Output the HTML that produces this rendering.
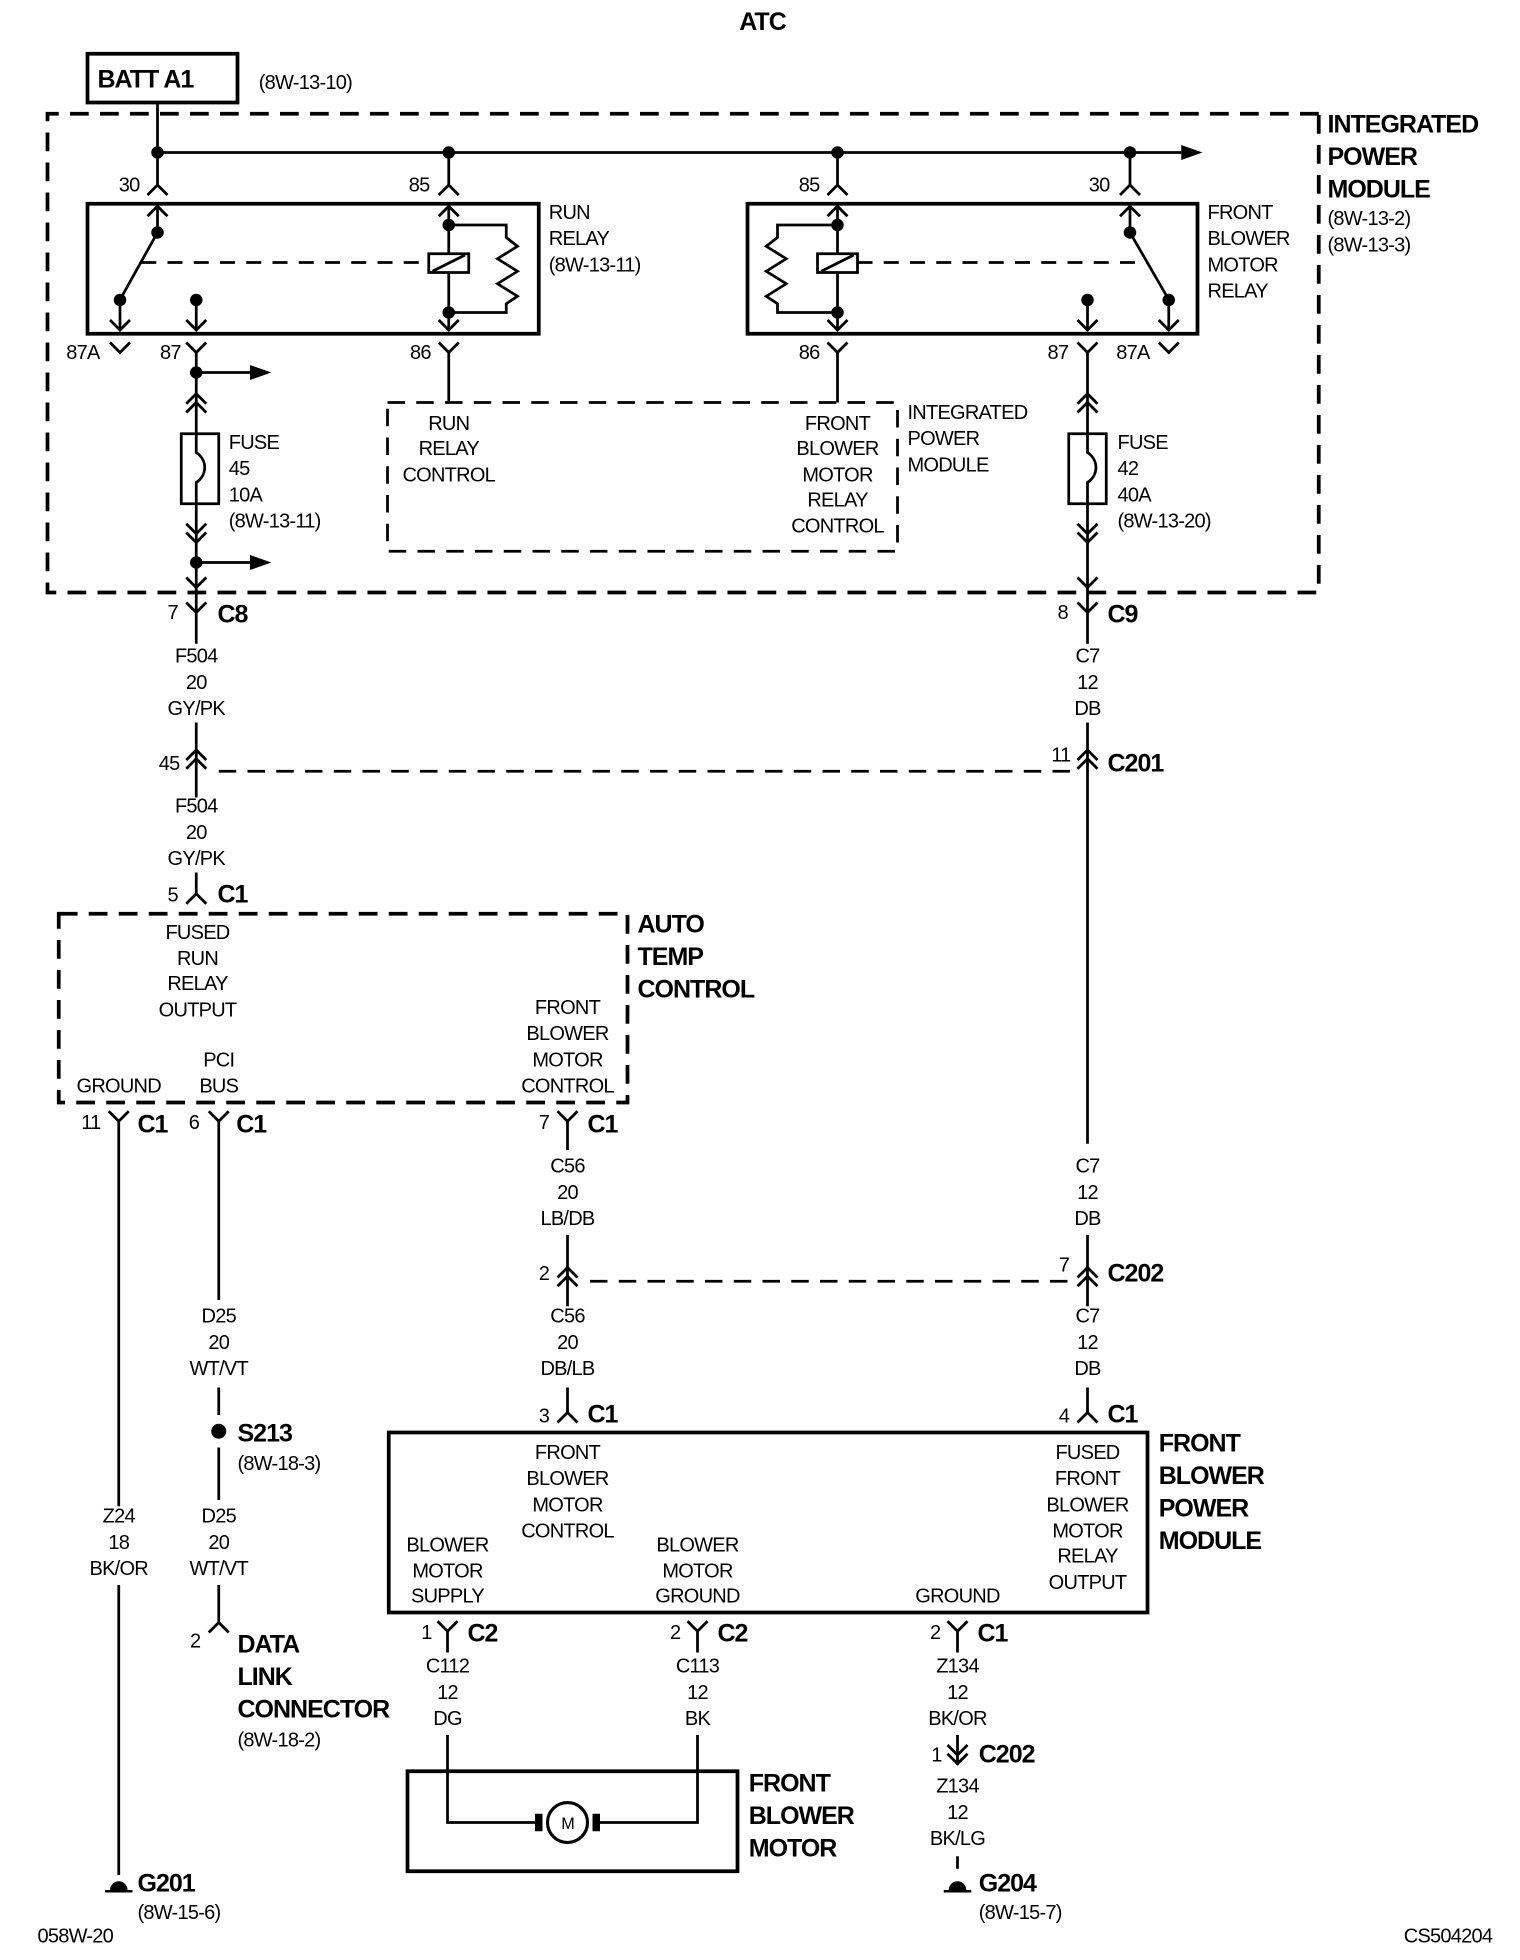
<!DOCTYPE html>
<html><head><meta charset="utf-8"><style>
html,body{margin:0;padding:0;background:#fff}
svg{display:block}
text{font-family:"Liberation Sans",sans-serif;font-size:16px;fill:#000;letter-spacing:-0.6px}
.b{font-weight:bold;font-size:20px;letter-spacing:-0.8px}
.m{text-anchor:middle}
</style></head><body>
<svg width="1520" height="1960" viewBox="0 0 1216 1568" xmlns="http://www.w3.org/2000/svg">
<g fill="none" stroke="#000" stroke-width="2.2">
<rect x="70" y="43" width="120" height="39" stroke-width="3"/>
<path d="M1055 91 H38 V474 H1055 Z" stroke-width="3" stroke-dasharray="15 9"/>
<path d="M126 82 V148 M126 122 H945 M359 122 V148 M670 122 V148 M904 122 V148"/>
<rect x="70" y="163" width="361" height="104" stroke-width="3"/>
<rect x="598" y="163" width="360" height="104" stroke-width="3"/>
<path d="M118 156 L126 148 L134 156 M351 156 L359 148 L367 156 M662 156 L670 148 L678 156 M896 156 L904 148 L912 156"/>
<path d="M118 173 L126 165 L134 173 M351 173 L359 165 L367 173 M662 173 L670 165 L678 173 M896 173 L904 165 L912 173"/>
<path d="M126 165 V186 M126 186 L97 238 M96 240 V264 M157 240 V264 M359 165 V203 M359 218 V264 M359 180 H405 V190 L414 197 L398 207 L414 217 L398 227 L414 237 L405 243 V250 H359"/>
<rect x="343" y="203" width="32" height="15"/>
<path d="M346 217 L372 204"/>
<path d="M113 210 H343" stroke-dasharray="12 9"/>
<path d="M904 165 V186 L934 238 M935 240 V264 M870 240 V264 M670 165 V203 M670 218 V264 M670 180 H622 V190 L613 197 L629 207 L613 217 L629 227 L613 237 L622 243 V250 H670"/>
<rect x="654" y="203" width="32" height="15"/>
<path d="M657 217 L683 204"/>
<path d="M686 210 H918" stroke-dasharray="12 9"/>
<path d="M88 256 L96 264 L104 256 M149 256 L157 264 L165 256 M351 256 L359 264 L367 256 M862 256 L870 264 L878 256 M927 256 L935 264 L943 256 M662 256 L670 264 L678 256"/>
<path d="M88 274 L96 282 L104 274 M149 274 L157 282 L165 274 M351 274 L359 282 L367 274 M862 274 L870 282 L878 274 M927 274 L935 282 L943 274 M662 274 L670 282 L678 274"/>
<path d="M157 282 V347 M157 403 V490 M157 298 H200 M157 450 H200 M359 282 V322 M670 282 V322 M870 282 V347 M870 403 V490"/>
<rect x="145" y="347" width="30" height="56"/>
<rect x="855" y="347" width="30" height="56"/>
<path d="M157 347 V362 C166 368 166 380 157 386 V403 M870 347 V362 C879 368 879 380 870 386 V403"/>
<path d="M149 323 L157 315 L165 323 M149 330 L157 322 L165 330 M862 323 L870 315 L878 323 M862 330 L870 322 L878 330"/>
<path d="M149 419 L157 427 L165 419 M149 426 L157 434 L165 426 M862 419 L870 427 L878 419 M862 426 L870 434 L878 426"/>
<path d="M149 462 L157 470 L165 462 M862 462 L870 470 L878 462"/>
<path d="M149 482 L157 490 L165 482 M862 482 L870 490 L878 482 M157 490 V515 M870 490 V515"/>
<path d="M310 322 H718 V441 H310 Z" stroke-dasharray="14 9"/>
<path d="M157 578 V638 M157 698 V715 M870 578 V915 M870 988 V1045"/>
<path d="M149 608 L157 600 L165 608 M149 615 L157 607 L165 615 M862 608 L870 600 L878 608 M862 615 L870 607 L878 615"/>
<path d="M175 617 H862" stroke-dasharray="14 9"/>
<path d="M149 723 L157 715 L165 723"/>
<path d="M47 731 H502 V882 H47 Z" stroke-width="3" stroke-dasharray="15 9"/>
<path d="M87 889 L95 897 L103 889 M95 897 V1205 M95 1268 V1500 M167 889 L175 897 L183 889 M175 897 V1040 M175 1110 V1132 M175 1158 V1200 M175 1268 V1298 M167 1306 L175 1298 L183 1306 M446 889 L454 897 L462 889 M454 897 V920 M454 988 V1045 M454 1110 V1130"/>
<path d="M446 1022 L454 1014 L462 1022 M446 1029 L454 1021 L462 1029 M862 1022 L870 1014 L878 1022 M862 1029 L870 1021 L878 1029"/>
<path d="M472 1025 H855" stroke-dasharray="14 9"/>
<path d="M870 1110 V1130"/>
<path d="M446 1138 L454 1130 L462 1138 M862 1138 L870 1130 L878 1138"/>
<rect x="311" y="1146" width="607" height="144" stroke-width="3"/>
<path d="M350 1297 L358 1305 L366 1297 M358 1305 V1322 M550 1297 L558 1305 L566 1297 M558 1305 V1322 M758 1297 L766 1305 L774 1297 M766 1305 V1322"/>
<rect x="326" y="1417" width="264" height="80" stroke-width="3"/>
<path d="M358 1388 V1458 H430 M478 1458 H558 V1388"/>
<circle cx="454" cy="1458" r="16" stroke-width="2.5"/>
<path d="M766 1388 V1412 M758 1396 L766 1404 L774 1396 M758 1403 L766 1411 L774 1403 M766 1485 V1495"/>
</g>
<g fill="#000">
<polygon points="945,116 962,122 945,128"/>
<polygon points="200,292 217,298 200,304"/>
<polygon points="200,444 217,450 200,456"/>
<rect x="428" y="1451" width="6" height="14"/><rect x="474" y="1451" width="6" height="14"/>
<circle cx="126" cy="122" r="5"/><circle cx="359" cy="122" r="5"/><circle cx="670" cy="122" r="5"/><circle cx="904" cy="122" r="5"/>
<circle cx="126" cy="186" r="5"/><circle cx="96" cy="240" r="5"/><circle cx="157" cy="240" r="5"/><circle cx="359" cy="180" r="5"/><circle cx="359" cy="250" r="5"/>
<circle cx="670" cy="180" r="5"/><circle cx="670" cy="250" r="5"/><circle cx="904" cy="186" r="5"/><circle cx="870" cy="240" r="5"/><circle cx="935" cy="240" r="5"/>
<circle cx="157" cy="298" r="5"/><circle cx="157" cy="450" r="5"/>
<circle cx="175" cy="1145" r="6"/>
<path d="M88 1512 a7 7 0 0 1 14 0 z M84 1512 h22 v2 h-22z"/>
<path d="M759 1512 a7 7 0 0 1 14 0 z M755 1512 h22 v2 h-22z"/>
</g>
<text class="b" x="610" y="24" text-anchor="middle">ATC</text>
<text class="b" x="78" y="70">BATT A1</text>
<text x="207" y="71">(8W-13-10)</text>
<text class="b" x="1062" y="106">INTEGRATED</text><text class="b" x="1062" y="132">POWER</text><text class="b" x="1062" y="158">MODULE</text>
<text x="1062" y="180">(8W-13-2)</text><text x="1062" y="201">(8W-13-3)</text>
<text x="95" y="153">30</text><text x="327" y="153">85</text><text x="639" y="153">85</text><text x="871" y="153">30</text>
<text x="439" y="175">RUN</text><text x="439" y="196">RELAY</text><text x="439" y="217">(8W-13-11)</text>
<text x="966" y="175">FRONT</text><text x="966" y="196">BLOWER</text><text x="966" y="217">MOTOR</text><text x="966" y="238">RELAY</text>
<text x="53" y="287">87A</text><text x="128" y="287">87</text><text x="328" y="287">86</text><text x="639" y="287">86</text><text x="838" y="287">87</text><text x="893" y="287">87A</text>
<text x="183" y="359">FUSE</text><text x="183" y="380">45</text><text x="183" y="401">10A</text><text x="183" y="422">(8W-13-11)</text>
<text x="894" y="359">FUSE</text><text x="894" y="380">42</text><text x="894" y="401">40A</text><text x="894" y="422">(8W-13-20)</text>
<text class="m" x="359" y="344">RUN</text><text class="m" x="359" y="364">RELAY</text><text class="m" x="359" y="385">CONTROL</text>
<text class="m" x="670" y="344">FRONT</text><text class="m" x="670" y="364">BLOWER</text><text class="m" x="670" y="385">MOTOR</text><text class="m" x="670" y="405">RELAY</text><text class="m" x="670" y="426">CONTROL</text>
<text x="726" y="335">INTEGRATED</text><text x="726" y="356">POWER</text><text x="726" y="377">MODULE</text>
<text x="134" y="495">7</text><text class="b" x="174" y="498">C8</text>
<text x="846" y="495">8</text><text class="b" x="886" y="498">C9</text>
<text class="m" x="157" y="530">F504</text><text class="m" x="157" y="551">20</text><text class="m" x="157" y="572">GY/PK</text>
<text class="m" x="870" y="530">C7</text><text class="m" x="870" y="551">12</text><text class="m" x="870" y="572">DB</text>
<text x="127" y="616">45</text><text x="841" y="609">11</text><text class="b" x="886" y="617">C201</text>
<text class="m" x="157" y="650">F504</text><text class="m" x="157" y="671">20</text><text class="m" x="157" y="692">GY/PK</text>
<text x="134" y="721">5</text><text class="b" x="174" y="722">C1</text>
<text class="b" x="510" y="746">AUTO</text><text class="b" x="510" y="772">TEMP</text><text class="b" x="510" y="798">CONTROL</text>
<text class="m" x="158" y="751">FUSED</text><text class="m" x="158" y="772">RUN</text><text class="m" x="158" y="792">RELAY</text><text class="m" x="158" y="813">OUTPUT</text>
<text class="m" x="95" y="874">GROUND</text><text class="m" x="175" y="853">PCI</text><text class="m" x="175" y="874">BUS</text>
<text class="m" x="454" y="811">FRONT</text><text class="m" x="454" y="832">BLOWER</text><text class="m" x="454" y="853">MOTOR</text><text class="m" x="454" y="874">CONTROL</text>
<text x="65" y="903">11</text><text class="b" x="110" y="906">C1</text>
<text x="151" y="903">6</text><text class="b" x="189" y="906">C1</text>
<text x="431" y="903">7</text><text class="b" x="470" y="906">C1</text>
<text class="m" x="454" y="938">C56</text><text class="m" x="454" y="959">20</text><text class="m" x="454" y="980">LB/DB</text>
<text class="m" x="870" y="938">C7</text><text class="m" x="870" y="959">12</text><text class="m" x="870" y="980">DB</text>
<text x="431" y="1024">2</text><text x="847" y="1017">7</text><text class="b" x="886" y="1025">C202</text>
<text class="m" x="454" y="1058">C56</text><text class="m" x="454" y="1079">20</text><text class="m" x="454" y="1100">DB/LB</text>
<text class="m" x="870" y="1058">C7</text><text class="m" x="870" y="1079">12</text><text class="m" x="870" y="1100">DB</text>
<text class="m" x="175" y="1058">D25</text><text class="m" x="175" y="1079">20</text><text class="m" x="175" y="1100">WT/VT</text>
<text x="431" y="1138">3</text><text class="b" x="470" y="1138">C1</text>
<text x="847" y="1138">4</text><text class="b" x="886" y="1138">C1</text>
<text class="b" x="190" y="1153">S213</text><text x="190" y="1176">(8W-18-3)</text>
<text class="b" x="927" y="1161">FRONT</text><text class="b" x="927" y="1187">BLOWER</text><text class="b" x="927" y="1213">POWER</text><text class="b" x="927" y="1239">MODULE</text>
<text class="m" x="454" y="1167">FRONT</text><text class="m" x="454" y="1188">BLOWER</text><text class="m" x="454" y="1209">MOTOR</text><text class="m" x="454" y="1230">CONTROL</text>
<text class="m" x="870" y="1167">FUSED</text><text class="m" x="870" y="1188">FRONT</text><text class="m" x="870" y="1209">BLOWER</text><text class="m" x="870" y="1230">MOTOR</text><text class="m" x="870" y="1250">RELAY</text><text class="m" x="870" y="1271">OUTPUT</text>
<text class="m" x="358" y="1241">BLOWER</text><text class="m" x="358" y="1262">MOTOR</text><text class="m" x="358" y="1282">SUPPLY</text>
<text class="m" x="558" y="1241">BLOWER</text><text class="m" x="558" y="1262">MOTOR</text><text class="m" x="558" y="1282">GROUND</text>
<text class="m" x="766" y="1282">GROUND</text>
<text class="m" x="95" y="1218">Z24</text><text class="m" x="95" y="1239">18</text><text class="m" x="95" y="1260">BK/OR</text>
<text class="m" x="175" y="1218">D25</text><text class="m" x="175" y="1239">20</text><text class="m" x="175" y="1260">WT/VT</text>
<text x="152" y="1318">2</text>
<text class="b" x="190" y="1322">DATA</text><text class="b" x="190" y="1348">LINK</text><text class="b" x="190" y="1374">CONNECTOR</text><text x="190" y="1397">(8W-18-2)</text>
<text x="337" y="1311">1</text><text class="b" x="374" y="1313">C2</text>
<text x="536" y="1311">2</text><text class="b" x="574" y="1313">C2</text>
<text x="744" y="1311">2</text><text class="b" x="782" y="1313">C1</text>
<text class="m" x="358" y="1338">C112</text><text class="m" x="358" y="1359">12</text><text class="m" x="358" y="1380">DG</text>
<text class="m" x="558" y="1338">C113</text><text class="m" x="558" y="1359">12</text><text class="m" x="558" y="1380">BK</text>
<text class="m" x="766" y="1338">Z134</text><text class="m" x="766" y="1359">12</text><text class="m" x="766" y="1380">BK/OR</text>
<text x="745" y="1409">1</text><text class="b" x="783" y="1410">C202</text>
<text class="m" x="766" y="1434">Z134</text><text class="m" x="766" y="1455">12</text><text class="m" x="766" y="1476">BK/LG</text>
<text style="font-size:13px" x="449" y="1463">M</text>
<text class="b" x="599" y="1433">FRONT</text><text class="b" x="599" y="1459">BLOWER</text><text class="b" x="599" y="1485">MOTOR</text>
<text class="b" x="110" y="1513">G201</text><text x="110" y="1535">(8W-15-6)</text>
<text class="b" x="783" y="1513">G204</text><text x="783" y="1535">(8W-15-7)</text>
<text x="30" y="1554">058W-20</text><text x="1123" y="1554">CS504204</text>
</svg>
</body></html>
